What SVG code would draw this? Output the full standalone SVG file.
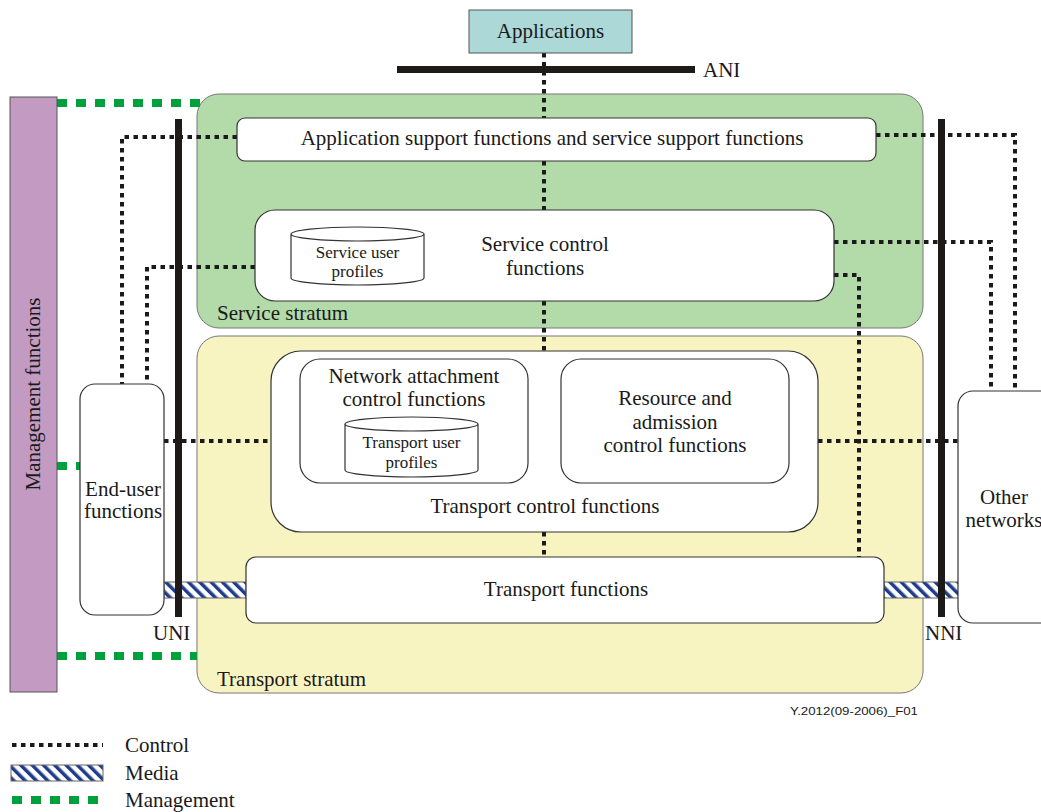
<svg xmlns="http://www.w3.org/2000/svg" width="1041" height="812" viewBox="0 0 1041 812">
<style>
text{font-family:"Liberation Serif","Times New Roman",serif;fill:#1a1a1a;font-size:21px}
.sm{font-size:17px}
.box{fill:#fff;stroke:#333;stroke-width:1.2}
.ctl{fill:none;stroke:#1a1a1a;stroke-width:4;stroke-dasharray:4.5 4.5}
.mgt{fill:none;stroke:#00a03c;stroke-width:8;stroke-dasharray:10 9}
.bar{fill:#1e1a18}
.media{fill:url(#hatch);stroke:#666;stroke-width:1}
</style>
<defs>
<pattern id="hatch" patternUnits="userSpaceOnUse" width="8" height="8" patternTransform="rotate(-45)">
<rect width="8" height="8" fill="#fff"/>
<rect x="0" y="0" width="3.5" height="8" fill="#1f3c8c"/>
</pattern>
</defs>
<rect width="1041" height="812" fill="#fff"/>

<g id="strata">
<rect x="197" y="94" width="726" height="234" rx="22" fill="#b3dbaa" stroke="#777" stroke-width="1"/>
<text x="217" y="320">Service stratum</text>
<rect x="197" y="336" width="726" height="357" rx="22" fill="#f8f4c2" stroke="#777" stroke-width="1"/>
<text x="217" y="686">Transport stratum</text>
</g>

<g id="connectors">
<path class="ctl" d="M544 53V118M544 161V210M544 301V351M544 532V557"/>
<path class="ctl" d="M237 137H122V384"/>
<path class="ctl" d="M255 267H147V384"/>
<path class="ctl" d="M164 441H271"/>
<path class="ctl" d="M528 416H561"/>
<path class="ctl" d="M876 135H1015V391"/>
<path class="ctl" d="M834 242H991V391"/>
<path class="ctl" d="M834 275H859V557"/>
<path class="ctl" d="M818 441H958"/>
<path class="mgt" d="M57 103H200"/>
<path class="mgt" d="M57 466H80"/>
<path class="mgt" d="M57 656H197"/>
<rect class="media" x="164" y="582" width="82" height="16"/>
<rect class="media" x="884" y="582" width="83" height="16"/>
</g>

<g id="interfaces">
<rect class="bar" x="397" y="66" width="298" height="7"/>
<text x="703" y="77">ANI</text>
<rect class="bar" x="175" y="119" width="7" height="498"/>
<text x="153" y="640">UNI</text>
<rect class="bar" x="938" y="119" width="7" height="498"/>
<text x="925" y="640">NNI</text>
</g>

<g id="applications">
<rect x="469" y="10" width="163" height="43" fill="#acd8d8" stroke="#555" stroke-width="1"/>
<text x="550.5" y="38" text-anchor="middle">Applications</text>
</g>

<g id="management">
<rect x="10" y="97" width="47" height="595" fill="#c39bc2" stroke="#555" stroke-width="1"/>
<text transform="translate(40 394) rotate(-90)" text-anchor="middle">Management functions</text>
</g>

<g id="app-support">
<rect class="box" x="237" y="118" width="639" height="43" rx="8"/>
<text x="552" y="145" text-anchor="middle">Application support functions and service support functions</text>
</g>

<g id="service-control">
<rect class="box" x="255" y="210" width="579" height="91" rx="20"/>
<text x="545" y="251" text-anchor="middle">Service control</text>
<text x="545" y="275" text-anchor="middle">functions</text>
</g>

<g id="service-user-profiles">
<path class="box" d="M291 234V278A66.5 7 0 0 0 424 278V234A66.5 7 0 0 0 291 234A66.5 7 0 0 0 424 234"/>
<text class="sm" x="357.5" y="258" text-anchor="middle">Service user</text>
<text class="sm" x="357.5" y="277" text-anchor="middle">profiles</text>
</g>

<g id="transport-control">
<rect class="box" x="271" y="351" width="547" height="181" rx="30"/>
<text x="545" y="513" text-anchor="middle">Transport control functions</text>
</g>

<g id="nacf">
<rect class="box" x="300" y="359" width="228" height="124" rx="20"/>
<text x="414" y="383" text-anchor="middle">Network attachment</text>
<text x="414" y="406" text-anchor="middle">control functions</text>
</g>

<g id="transport-user-profiles">
<path class="box" d="M345 424V470A66.5 7 0 0 0 478 470V424A66.5 7 0 0 0 345 424A66.5 7 0 0 0 478 424"/>
<text class="sm" x="411.5" y="448" text-anchor="middle">Transport user</text>
<text class="sm" x="411.5" y="468" text-anchor="middle">profiles</text>
</g>

<g id="racf">
<rect class="box" x="561" y="359" width="228" height="124" rx="20"/>
<text x="675" y="405" text-anchor="middle">Resource and</text>
<text x="675" y="429" text-anchor="middle">admission</text>
<text x="675" y="452" text-anchor="middle">control functions</text>
</g>

<g id="transport-functions">
<rect class="box" x="246" y="557" width="638" height="66" rx="10"/>
<text x="566" y="596" text-anchor="middle">Transport functions</text>
</g>

<g id="end-user">
<rect class="box" x="80" y="384" width="84" height="231" rx="15"/>
<text x="123" y="496" text-anchor="middle">End-user</text>
<text x="123" y="518" text-anchor="middle">functions</text>
</g>

<g id="other-networks">
<rect class="box" x="958" y="391" width="100" height="232" rx="15"/>
<text x="1004" y="504" text-anchor="middle">Other</text>
<text x="1004" y="527" text-anchor="middle">networks</text>
</g>

<text x="854" y="715" text-anchor="middle" style="font-family:'Liberation Sans',Arial,sans-serif;font-size:11px" textLength="128" lengthAdjust="spacingAndGlyphs">Y.2012(09-2006)_F01</text>

<g id="legend">
<path class="ctl" d="M12 745H103"/>
<text x="125" y="752">Control</text>
<rect class="media" x="11" y="765" width="92" height="16"/>
<text x="125" y="780">Media</text>
<path class="mgt" d="M12 800H100"/>
<text x="125" y="807">Management</text>
</g>
</svg>
